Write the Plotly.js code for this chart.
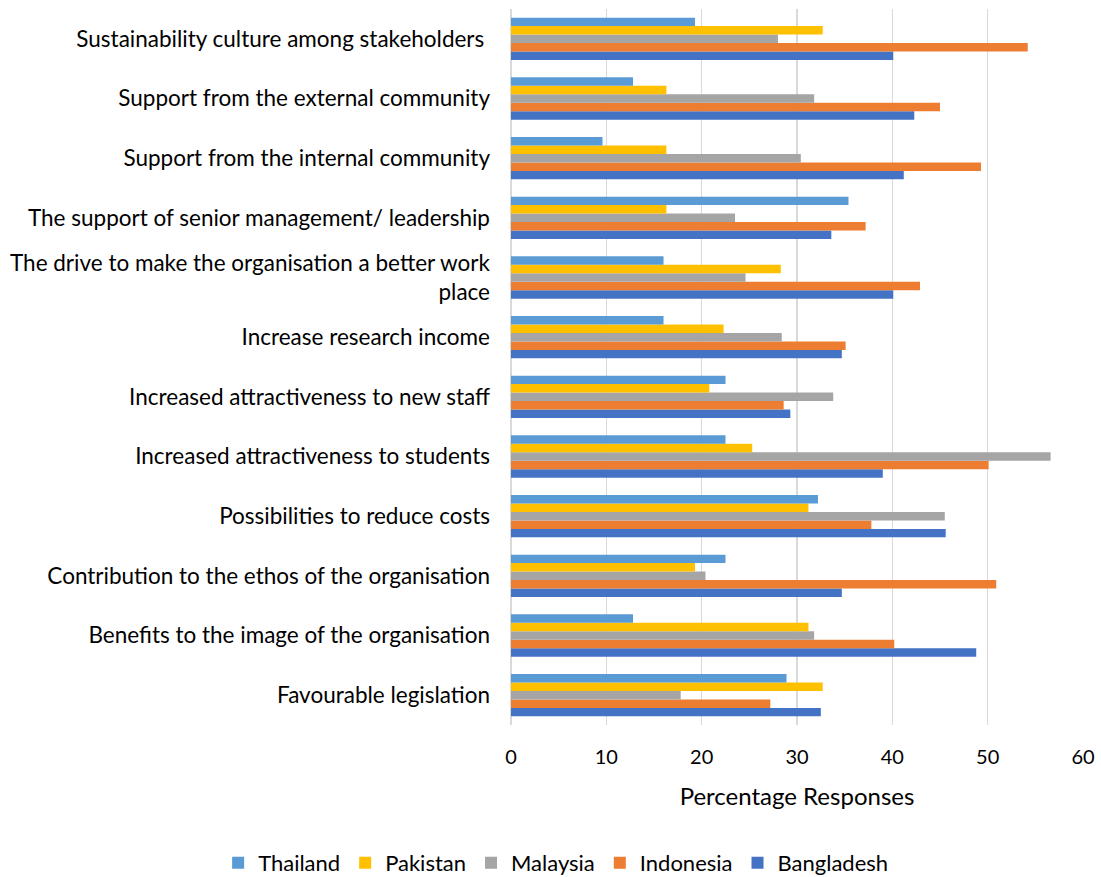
<!DOCTYPE html>
<html>
<head>
<meta charset="utf-8">
<script src="https://cdn.plot.ly/plotly-3.0.1.min.js"></script>
<style>body{margin:0;padding:0;background:#fff;}#chart{width:1101px;height:877px;}</style>
</head>
<body>
<div id="chart"></div>
<script>
const categories = [
  "Favourable legislation",
  "Benefits to the image of the organisation",
  "Contribution to the ethos of the organisation",
  "Possibilities to reduce costs",
  "Increased attractiveness to students",
  "Increased attractiveness to new staff",
  "Increase research income",
  "The drive to make the organisation a better work<br>place",
  "The support of senior management/ leadership",
  "Support from the internal community",
  "Support from the external community",
  "Sustainability culture among stakeholders "
];
const thailand   = [28.9, 12.8, 22.5, 32.2, 22.5, 22.5, 16.0, 16.0, 35.4,  9.6, 12.8, 19.3];
const pakistan   = [32.7, 31.2, 19.3, 31.2, 25.3, 20.8, 22.3, 28.3, 16.3, 16.3, 16.3, 32.7];
const malaysia   = [17.8, 31.8, 20.4, 45.5, 56.6, 33.8, 28.4, 24.6, 23.5, 30.4, 31.8, 28.0];
const indonesia  = [27.2, 40.2, 50.9, 37.8, 50.1, 28.6, 35.1, 42.9, 37.2, 49.3, 45.0, 54.2];
const bangladesh = [32.5, 48.8, 34.7, 45.6, 39.0, 29.3, 34.7, 40.1, 33.6, 41.2, 42.3, 40.1];
const xTicks = [0, 10, 20, 30, 40, 50, 60];

const seriesList = [
  {name: "Bangladesh", values: bangladesh, color: "#4472C4"},
  {name: "Indonesia",  values: indonesia,  color: "#ED7D31"},
  {name: "Malaysia",   values: malaysia,   color: "#A5A5A5"},
  {name: "Pakistan",   values: pakistan,   color: "#FFC000"},
  {name: "Thailand",   values: thailand,   color: "#5B9BD5"}
];

const traces = seriesList.map(s => ({
  type: "bar",
  orientation: "h",
  name: s.name,
  y: categories,
  x: s.values,
  marker: {color: s.color, line: {width: 0}},
  hoverinfo: "x+name"
}));

const font = "Lato, 'Open Sans', sans-serif";
const layout = {
  width: 1101,
  height: 877,
  margin: {l: 511, r: 18, t: 9, b: 152, autoexpand: false},
  paper_bgcolor: "#ffffff",
  plot_bgcolor: "#ffffff",
  barmode: "group",
  bargap: 0.29,
  bargroupgap: 0,
  font: {family: font, size: 22, color: "#000000"},
  xaxis: {
    range: [0, 60],
    tickvals: xTicks,
    ticktext: xTicks.map(String),
    showgrid: true,
    gridcolor: "#D9D9D9",
    gridwidth: 1.5,
    zeroline: true,
    zerolinecolor: "#D9D9D9",
    zerolinewidth: 1.5,
    showline: false,
    ticks: "",
    ticklen: 0,
    ticklabelstandoff: 18,
    tickfont: {family: font, size: 20, color: "#000000"},
    title: {text: "Percentage Responses", font: {family: font, size: 24, color: "#000000"}, standoff: 21}
  },
  yaxis: {
    type: "category",
    categoryorder: "array",
    categoryarray: categories,
    showgrid: false,
    zeroline: false,
    showline: false,
    ticks: "",
    ticklabelstandoff: 20,
    tickfont: {family: font, size: 22.5, color: "#000000"},
    automargin: false
  },
  showlegend: true,
  legend: {
    orientation: "h",
    traceorder: "reversed",
    xref: "paper",
    yref: "paper",
    x: -0.512,
    xanchor: "left",
    y: -0.1927,
    yanchor: "middle",
    font: {family: font, size: 22, color: "#000000"},
    itemwidth: 30
  }
};

Plotly.newPlot("chart", traces, layout, {displayModeBar: false, staticPlot: true});
</script>
</body>
</html>
